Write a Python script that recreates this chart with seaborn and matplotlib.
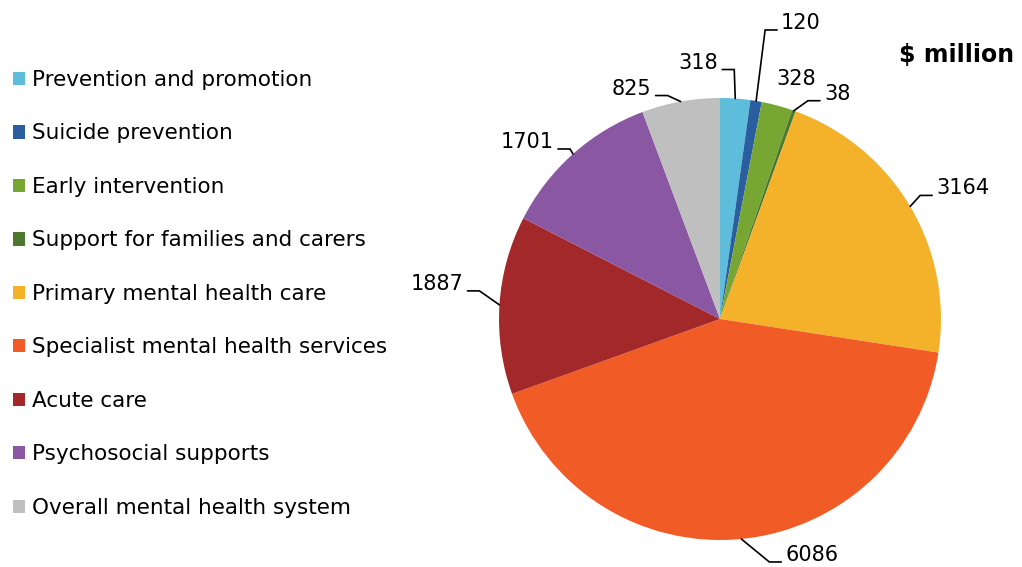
import matplotlib

matplotlib.use("Agg")
import matplotlib.pyplot as plt
import numpy as np
import seaborn as sns

W, H = 1022, 567

categories = [
    "Prevention and promotion",
    "Suicide prevention",
    "Early intervention",
    "Support for families and carers",
    "Primary mental health care",
    "Specialist mental health services",
    "Acute care",
    "Psychosocial supports",
    "Overall mental health system",
]
spend = [318, 120, 328, 38, 3164, 6086, 1887, 1701, 825]
colors = [
    "#5FBDDC", "#2A5E9F", "#78A632", "#4C7731", "#F4B12A",
    "#F15B26", "#A3282A", "#8A57A2", "#BFBFBF",
]

# label layout: offset (px) of text from the wedge's outer midpoint, alignment, leader line
label_layout = [
    (-17, -36, "right", True),
    (25, -78, "left", True),
    (19, -27, "center", False),
    (30, -17, "left", True),
    (26, -18, "left", True),
    (44, 16, "left", True),
    (-36, -21, "right", True),
    (-19, -12, "right", True),
    (-29, -13, "right", True),
]

sns.set_theme(style="white")
plt.rcParams["font.family"] = ["DejaVu Sans"]
plt.rcParams["text.color"] = "black"

fig = plt.figure(figsize=(W / 100, H / 100), dpi=100)
ax = fig.add_axes([0, 0, 1, 1])

wedges, _ = ax.pie(
    spend,
    colors=colors,
    startangle=90,
    counterclock=False,
    center=(720, H - 319),
    radius=221,
    wedgeprops={"linewidth": 0},
)
ax.set_xlim(0, W)
ax.set_ylim(0, H)
ax.set_aspect("equal")
ax.axis("off")

fs = 15
for w, val, (dx, dy, ha, line) in zip(wedges, spend, label_layout):
    mid = np.deg2rad((w.theta1 + w.theta2) / 2)
    ax_x = w.center[0] + w.r * np.cos(mid)
    ax_y = w.center[1] + w.r * np.sin(mid)
    tx, ty = ax_x + dx, ax_y - dy
    ax.text(tx, ty, str(val), ha=ha, va="center", fontsize=fs, color="black")
    if line:
        sgn = 1 if ha == "left" else -1
        end_x = tx - sgn * 4
        elbow_x = end_x - sgn * 12
        ly = ty - 7
        ax.plot([ax_x, elbow_x, end_x], [ax_y, ly, ly], color="black", lw=1.2,
                solid_joinstyle="miter")

ax.text(957, H - 55, "$ million", ha="center", va="center", fontsize=17,
        fontweight="bold", color="black")

ax.legend(
    wedges,
    categories,
    loc="upper left",
    bbox_to_anchor=(13 / W, 1 - 70 / H),
    frameon=False,
    fontsize=15.5,
    labelcolor="black",
    handlelength=0.58,
    handleheight=0.58,
    handletextpad=0.28,
    labelspacing=1.555,
    borderpad=0,
    borderaxespad=0,
)

fig.savefig("out.png", dpi=100)
